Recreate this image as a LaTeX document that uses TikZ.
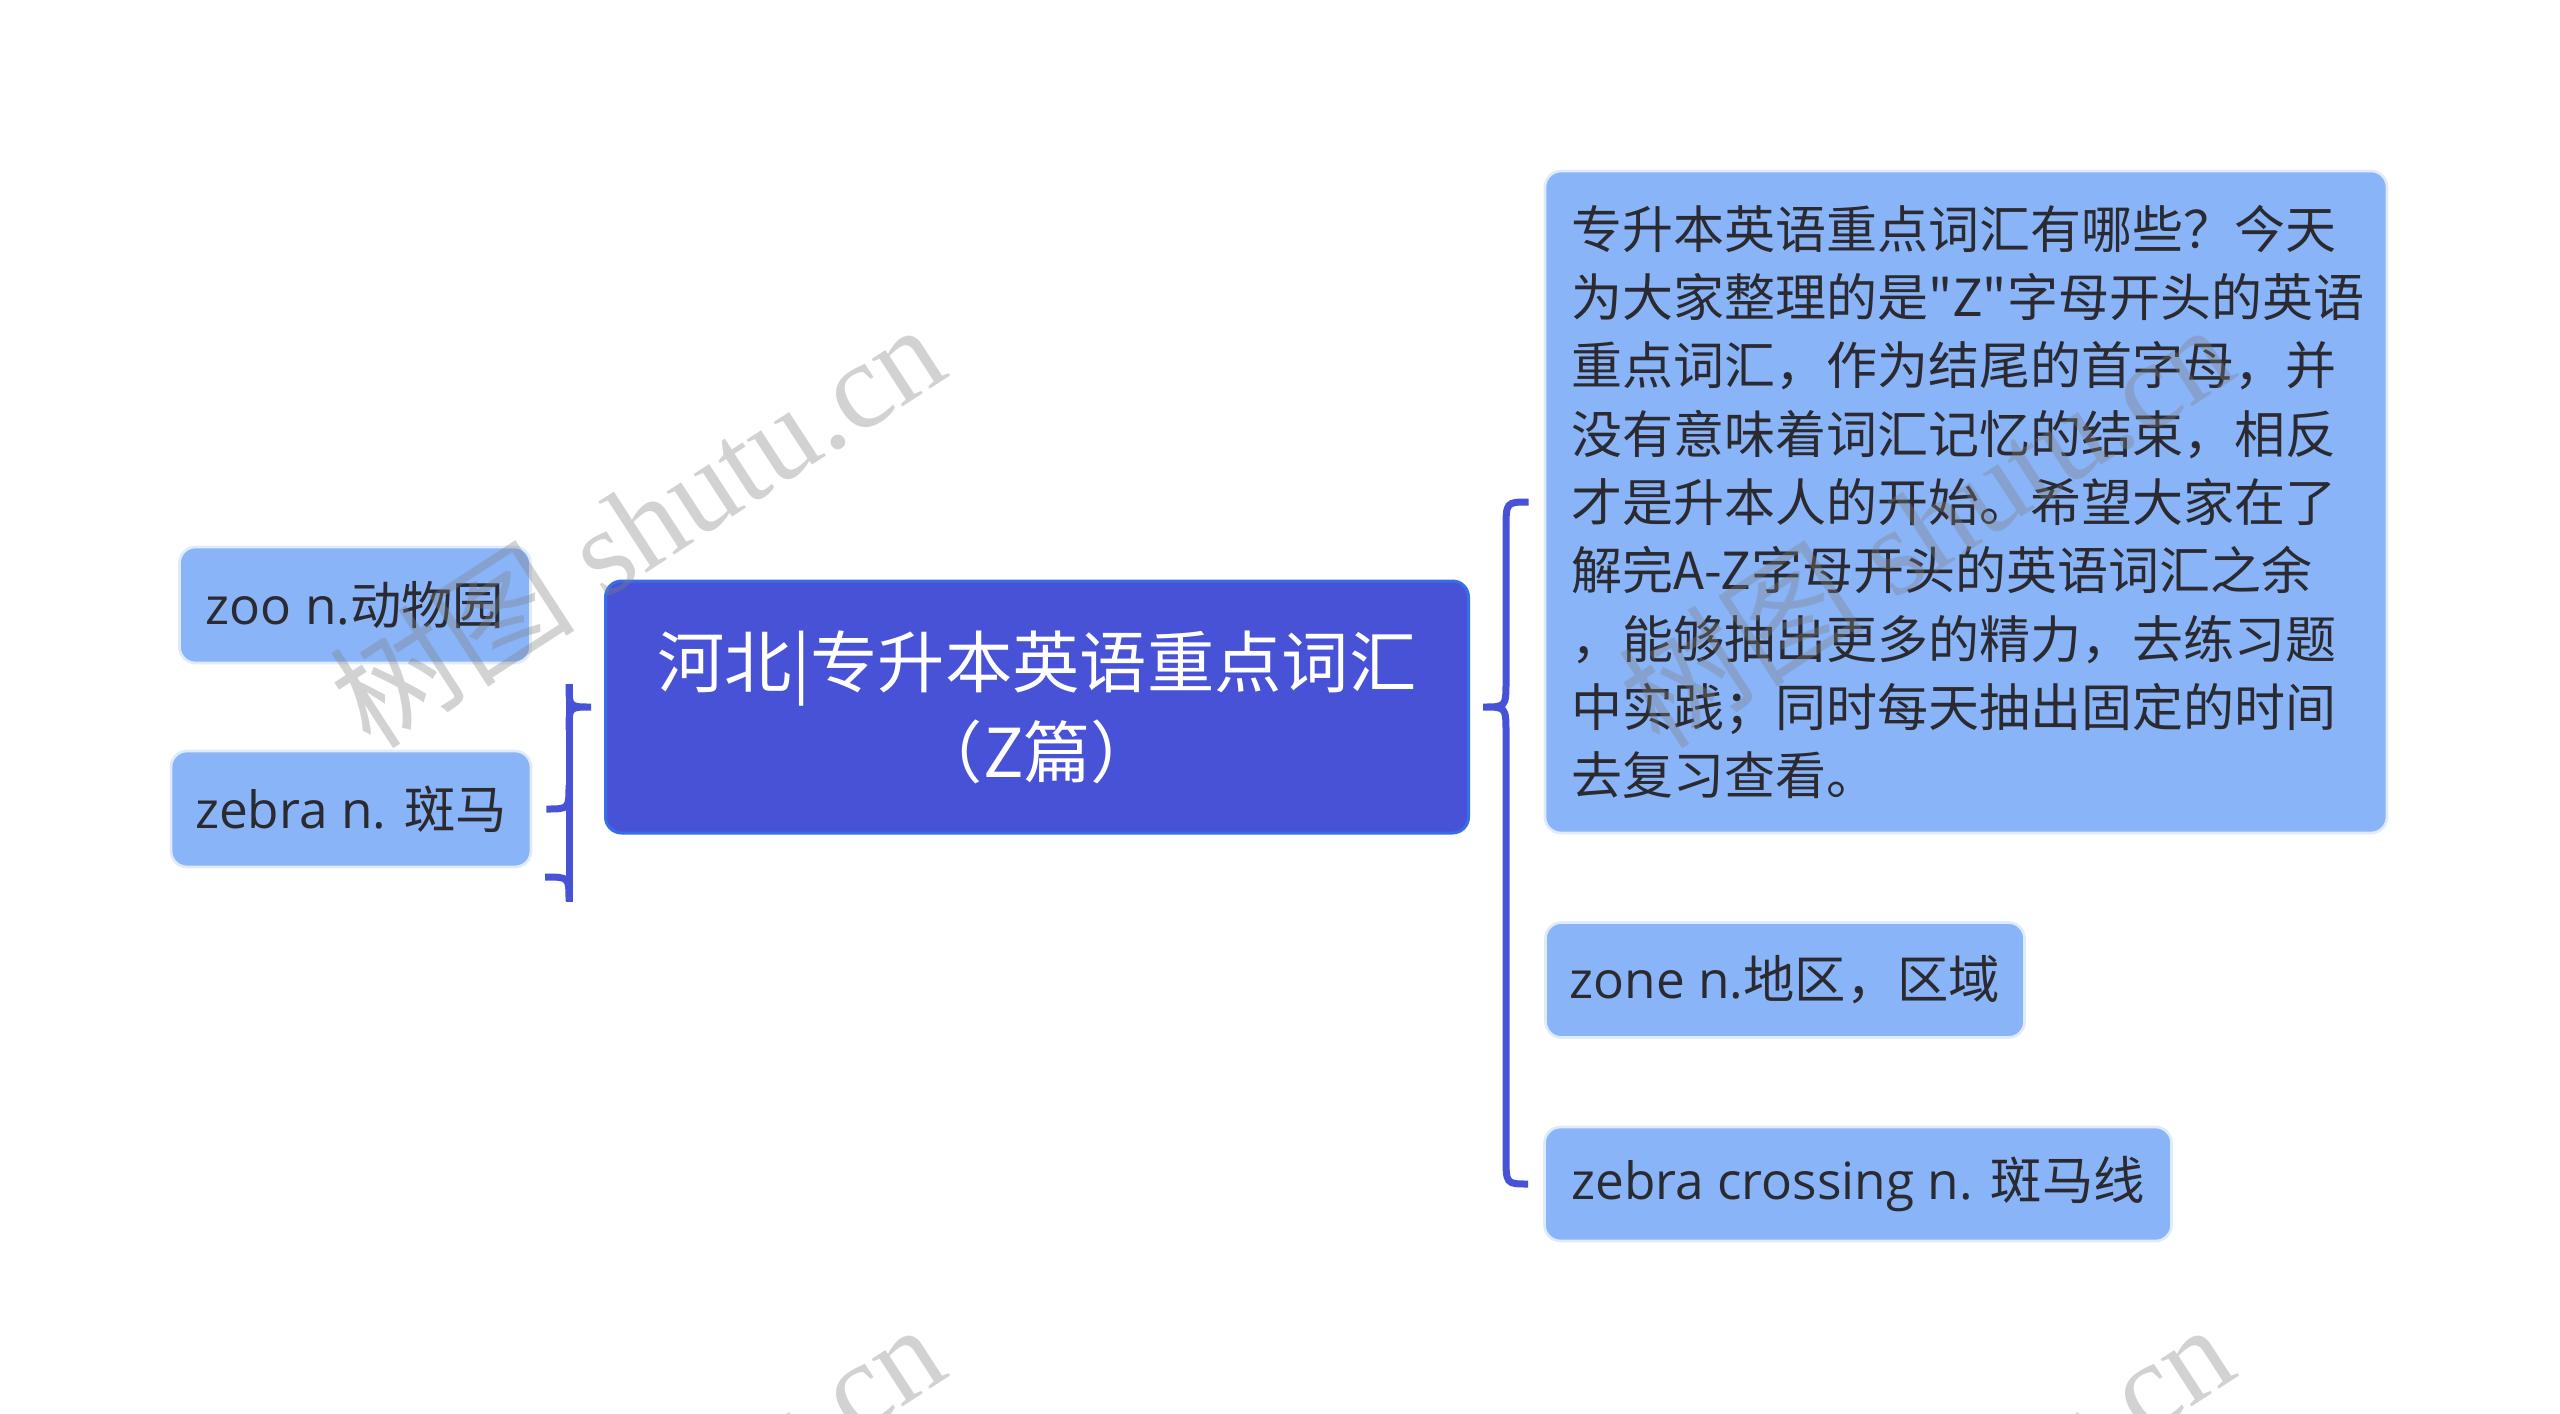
\documentclass[tikz,border=0pt]{standalone}
\usepackage{fontspec}
\setmainfont{Open Sans}
\newfontfamily\cjk{Noto Sans CJK SC}
\newfontfamily\wmserif{Liberation Serif}
\usetikzlibrary{calc}
\definecolor{rootblue}{RGB}{72,82,214}
\definecolor{rootedge}{RGB}{54,110,232}
\definecolor{leafblue}{RGB}{138,180,248}
\definecolor{leafedge}{RGB}{224,235,250}
\definecolor{inkgray}{RGB}{42,42,48}
\tikzset{
  rootbox/.style={draw=rootedge, line width=0.9pt, fill=rootblue, rounded corners=4.8pt, text=white, align=center, inner sep=0pt, font=\cjk\fontsize{20.2pt}{27pt}\selectfont},
  leafbox/.style={draw=leafedge, line width=0.8pt, fill=leafblue, rounded corners=4.8pt, text=inkgray, inner sep=0pt, font=\fontsize{15.4pt}{20.5pt}\selectfont},
  brace/.style={draw=rootblue, line width=2.1pt},
  wmark/.style={text=gray, opacity=0.35, rotate=33, inner sep=0pt, font=\wmserif\fontsize{37pt}{37pt}\selectfont}
}
\begin{document}
\begin{tikzpicture}[x=0.3pt,y=-0.3pt]
\fill[white] (0,0) rectangle (2560,1414);
\clip (0,0) rectangle (2560,1414);
\node[rootbox, minimum width=258.9pt, minimum height=75.6pt] (root) at (1037,707) {河北|专升本英语重点词汇\\（Z篇）};
\node[leafbox, minimum width=105.3pt, minimum height=34.8pt] (zoo) at (355,605) {zoo n.{\cjk 动物园}};
\node[leafbox, minimum width=108pt, minimum height=34.8pt] (zebra) at (351,809) {zebra n. {\cjk 斑马}};
\node[leafbox, font=\cjk\fontsize{15.3pt}{20.5pt}\selectfont, text width=237pt, align=left, minimum width=252.6pt, minimum height=198.6pt] (intro) at (1966,502) {专升本英语重点词汇有哪些？今天\\为大家整理的是"Z"字母开头的英语\\重点词汇，作为结尾的首字母，并\\没有意味着词汇记忆的结束，相反\\才是升本人的开始。希望大家在了\\解完A-Z字母开头的英语词汇之余\\，能够抽出更多的精力，去练习题\\中实践；同时每天抽出固定的时间\\去复习查看。};
\node[leafbox, minimum width=143.7pt, minimum height=34.5pt] (zone) at (1785,980) {zone n.{\cjk 地区，区域}};
\node[leafbox, minimum width=188.1pt, minimum height=34.2pt] (crossing) at (1858,1184) {zebra crossing n. {\cjk 斑马线}};
\coordinate (lspine) at (569,0);
\coordinate (rspine) at (1506,0);
\coordinate (ltail) at (545,877);
\draw[brace] ($(lspine |- root.west)+(0,-23)$) -- (lspine |- 0,902);
\draw[brace] ($(lspine |- root.west)+(0,-23)$) .. controls (lspine |- root.west) .. ($(root.west)+(-13,0)$) .. controls (lspine |- root.west) .. ($(lspine |- root.west)+(0,23)$);
\draw[brace] ($(lspine |- zebra.east)+(0,-24)$) .. controls (lspine |- zebra.east) .. ($(zebra.east)+(14,0)$);
\draw[brace] (ltail) .. controls (lspine |- ltail) .. ($(lspine |- ltail)+(0,24)$);
\draw[brace] ($(intro.west)+(-15,0)$) .. controls (rspine |- intro.west) .. ($(rspine |- intro.west)+(0,28)$)
  -- ($(rspine |- root.east)+(0,-26)$) .. controls (rspine |- root.east) .. ($(root.east)+(13,0)$)
  .. controls (rspine |- root.east) .. ($(rspine |- root.east)+(0,26)$)
  -- ($(rspine |- crossing.west)+(0,-28)$) .. controls (rspine |- crossing.west) .. ($(crossing.west)+(-15,0)$);
\foreach \wx/\wy [count=\i] in {636/524,1925/524,636/1524,1925/1524}
  \node[wmark] (wm\i) at (\wx,\wy) {{\cjk 树图} shutu.cn};
\end{tikzpicture}
\end{document}
